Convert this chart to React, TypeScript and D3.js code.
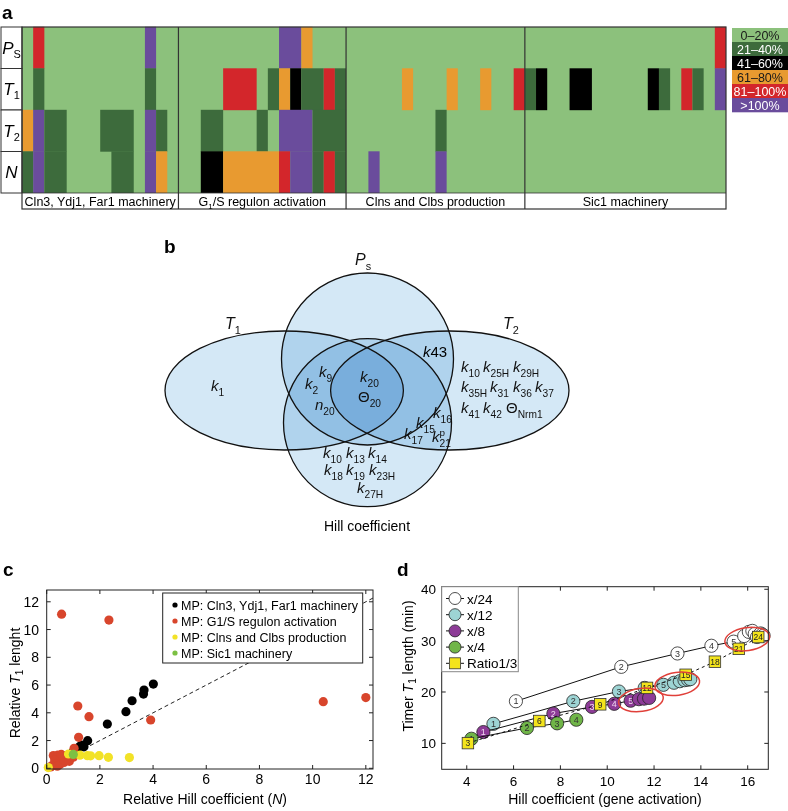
import React from 'react';
import * as d3 from 'd3';

const FONT = "'Liberation Sans', Arial, Helvetica, sans-serif";

// ---------------- Panel a data ----------------
const HEAT_ROW_KEYS = ['PS', 'T1', 'T2', 'N'];
// codes: 0 = 0-20%, 1 = 21-40%, 2 = 41-60%, 3 = 61-80%, 4 = 81-100%, 5 = >100%
const HEAT_PS = '04000000000500' + '000000000553000' + '0000000000000000' + '000000000000000004';
const HEAT_T1 = '01000000000100' + '000044401321141' + '0000030003003004' + '120022000002104105';
const HEAT_T2 = '35110001110510' + '001100010555111' + '0000000010000000' + '000000000000000000';
const HEAT_N = '15110000110530' + '002233333455141' + '0050000050000000' + '000000000000000000';
const HEAT_SECTION_SIZES = [14, 15, 16, 18];
const HEAT_LEVELS = ['0–20%', '21–40%', '41–60%', '61–80%', '81–100%', '>100%'];
const HEAT_COLORS = ['#8cc17c', '#3d6b3c', '#000000', '#e89a30', '#d3262b', '#6a4c9c'];
const HEAT_TEXT = ['#1a1a1a', '#ffffff', '#ffffff', '#1a1a1a', '#ffffff', '#ffffff'];

// ---------------- Panel c data ----------------
const C_SERIES = ['MP: Cln3, Ydj1, Far1 machinery', 'MP: G1/S regulon activation', 'MP: Clns and Clbs production', 'MP: Sic1 machinery'];
const C_COLORS = ['#000000', '#d8452c', '#f2e227', '#7cc043'];
const C_BLACK = [[4.01, 6.07], [3.66, 5.64], [3.64, 5.35], [3.21, 4.87], [2.98, 4.08], [2.28, 3.19], [1.54, 1.99], [1.32, 1.68], [1.23, 1.56], [1.12, 1.35], [0.98, 1.15], [0.88, 0.98], [0.78, 0.82], [0.68, 0.7], [1.4, 1.55]];
const C_RED = [[0.56, 11.11], [2.34, 10.68], [1.17, 4.49], [1.59, 3.72], [3.91, 3.48], [1.2, 2.23], [10.4, 4.8], [12.0, 5.1], [1.03, 1.44],
  [0.25, 0.92], [0.42, 0.95], [0.3, 0.6], [0.45, 0.48], [0.55, 0.72], [0.62, 0.9], [0.72, 0.6], [0.82, 0.75], [0.9, 0.98], [0.35, 0.3],
  [0.2, 0.2], [0.5, 0.28], [0.65, 0.42], [0.85, 0.5], [1.0, 0.8], [0.15, 0.1], [0.4, 0.15], [0.55, 1.0]];
const C_YELLOW = [[0.06, 0.05], [0.82, 1.03], [1.25, 0.95], [1.53, 0.91], [1.65, 0.9], [1.97, 0.91], [2.32, 0.79], [3.11, 0.77]];
const C_GREEN = [[1.0, 1.0]];
const C_X_TICKS = [0, 2, 4, 6, 8, 10, 12];
const C_Y_TICKS = [0, 2, 4, 6, 8, 10, 12];

// ---------------- Panel d data ----------------
const D_NAMES = ['x/24', 'x/12', 'x/8', 'x/4', 'Ratio1/3'];
const D_FILLS = ['#ffffff', '#9dd4d4', '#8d3b97', '#70b548', '#f3e41c'];
const D_ORIGIN = [4.2, 10.9];
const D_X24 = [[6.1, 18.2], [10.6, 24.9], [13.0, 27.5], [14.45, 29.0], [15.4, 29.8], [15.85, 30.9], [16.05, 31.7], [16.2, 31.9], [16.3, 31.3], [16.4, 30.7], [16.5, 31.0], [16.55, 31.4], [16.62, 31.2], [16.68, 31.0]];
const D_X12 = [[5.14, 13.8], [8.55, 18.2], [10.5, 20.1], [11.6, 20.8], [12.4, 21.4], [12.85, 21.8], [13.1, 22.1], [13.3, 22.3], [13.45, 22.4], [13.55, 22.5]];
const D_X8 = [[4.71, 12.2], [7.7, 15.8], [9.35, 17.1], [10.3, 17.7], [11.0, 18.3], [11.35, 18.6], [11.57, 18.7], [11.79, 18.85]];
const D_X4 = [[4.2, 10.9], [6.57, 13.0], [7.86, 13.9], [8.68, 14.6]];
const D_RATIO = [[4.05, 10.05], [7.1, 14.35], [9.7, 17.6], [11.7, 20.8], [13.35, 23.35], [14.6, 25.9], [15.62, 28.4], [16.45, 30.7]];
const D_RATIO_LABELS = ['3', '6', '9', '12', '15', '18', '21', '24'];
const D_ELLIPSES = [[11.44, 18.45], [12.99, 21.6], [15.98, 30.3]];
const D_X_TICKS = [4, 6, 8, 10, 12, 14, 16];
const D_Y_TICKS = [10, 20, 30, 40];

function Tok({ x, y, base, sub, sup, size = 15, italic = true, anchor = 'start' }: any) {
  return (
    <text x={x} y={y} fontSize={size} fontFamily={FONT} textAnchor={anchor} fill="#111">
      <tspan fontStyle={italic ? 'italic' : 'normal'}>{base}</tspan>
      {sup ? <tspan fontSize={size * 0.66} dy={-size * 0.42}>{sup}</tspan> : null}
      {sub ? (
        <tspan fontSize={size * 0.68} dx={sup ? -size * 0.36 : 0} dy={sup ? size * 0.74 : size * 0.3}>{sub}</tspan>
      ) : null}
    </text>
  );
}

// consecutive runs of equal codes in a row string
function runs(row: string) {
  const out: { start: number; len: number; code: number }[] = [];
  row.split('').forEach((ch, i) => {
    const last = out[out.length - 1];
    if (last && last.code === +ch) last.len += 1;
    else out.push({ start: i, len: 1, code: +ch });
  });
  return out;
}

function PanelA() {
  const rows = [HEAT_PS, HEAT_T1, HEAT_T2, HEAT_N];
  const nCols = HEAT_PS.length;
  const left = 22, right = 726, top = 27, bottom = 193, labBottom = 209;
  const x = d3.scaleBand<number>().domain(d3.range(nCols)).range([left, right]);
  const y = d3.scaleBand<string>().domain(HEAT_ROW_KEYS).range([top, bottom]);
  const ends = Array.from(d3.cumsum(HEAT_SECTION_SIZES));
  const starts = [0, ...ends.slice(0, -1)];
  const colX = (i: number) => (i >= nCols ? right : (x(i) as number));
  const rowLabels: any[] = [
    { base: 'P', sub: 'S' },
    { base: 'T', sub: '1' },
    { base: 'T', sub: '2' },
    { base: 'N', sub: '' },
  ];
  const sectionNames: any[] = [
    <>Cln3, Ydj1, Far1 machinery</>,
    <>G<tspan fontSize={8} dy={3}>1</tspan><tspan dy={-3}>/S regulon activation</tspan></>,
    <>Clns and Clbs production</>,
    <>Sic1 machinery</>,
  ];
  return (
    <g>
      <text x={2} y={19} fontSize={19} fontWeight="bold">a</text>
      <rect x={left} y={top} width={right - left} height={bottom - top} fill={HEAT_COLORS[0]} />
      {rows.map((row, r) =>
        runs(row).filter((run) => run.code !== 0).map((run) => (
          <rect key={`${r}-${run.start}`} x={x(run.start)} y={(y(HEAT_ROW_KEYS[r]) as number) - 0.2}
            width={colX(run.start + run.len) - (x(run.start) as number)}
            height={y.bandwidth() + 0.4} fill={HEAT_COLORS[run.code]} />
        ))
      )}
      {HEAT_ROW_KEYS.map((k, r) => (
        <g key={k}>
          <rect x={1} y={y(k)} width={left - 1} height={y.bandwidth()} fill="#fff" stroke="#333" strokeWidth={1} />
          <text x={11.5} y={(y(k) as number) + y.bandwidth() / 2 + 6} textAnchor="middle" fontSize={17}>
            <tspan fontStyle="italic">{rowLabels[r].base}</tspan>
            {rowLabels[r].sub ? <tspan fontSize={11} dy={4}>{rowLabels[r].sub}</tspan> : null}
          </text>
        </g>
      ))}
      <rect x={left} y={bottom} width={right - left} height={labBottom - bottom} fill="#fff" />
      <rect x={left} y={top} width={right - left} height={labBottom - top} fill="none" stroke="#333" strokeWidth={1.2} />
      {starts.slice(1).map((s) => (
        <line key={s} x1={colX(s)} x2={colX(s)} y1={top} y2={labBottom} stroke="#333" strokeWidth={1.2} />
      ))}
      <line x1={left} x2={right} y1={bottom} y2={bottom} stroke="#333" strokeWidth={0.8} />
      {starts.map((s, i) => (
        <text key={i} x={(colX(s) + colX(ends[i])) / 2} y={205.5} textAnchor="middle" fontSize={12.5}>
          {sectionNames[i]}
        </text>
      ))}
      {HEAT_LEVELS.map((lab, i) => (
        <g key={lab}>
          <rect x={732} y={28 + i * 14} width={56} height={14.3} fill={HEAT_COLORS[i]} />
          <text x={760} y={28 + i * 14 + 11.5} textAnchor="middle" fontSize={12.5} fill={HEAT_TEXT[i]}>{lab}</text>
        </g>
      ))}
    </g>
  );
}

function PanelB() {
  const ellW = 119.2, ellH = 59.5;
  const shapes = [
    { type: 'e', cx: 284.2, cy: 390.5 },
    { type: 'e', cx: 449.8, cy: 390.5 },
    { type: 'c', cx: 367.5, cy: 359, r: 86 },
    { type: 'c', cx: 367.5, cy: 422.7, r: 84 },
  ];
  const toks: any[] = [
    { x: 211, y: 391, base: 'k', sub: '1' },
    { x: 319, y: 377, base: 'k', sub: '9' },
    { x: 305, y: 389, base: 'k', sub: '2' },
    { x: 315, y: 410, base: 'n', sub: '20' },
    { x: 360, y: 382, base: 'k', sub: '20' },
    { x: 358, y: 402, base: 'Θ', sub: '20', italic: false },
    { x: 423, y: 357, base: 'k', sub: '', extra: '43' },
    { x: 461, y: 372, base: 'k', sub: '10' },
    { x: 483, y: 372, base: 'k', sub: '25H' },
    { x: 513, y: 372, base: 'k', sub: '29H' },
    { x: 461, y: 392, base: 'k', sub: '35H' },
    { x: 490, y: 392, base: 'k', sub: '31' },
    { x: 513, y: 392, base: 'k', sub: '36' },
    { x: 535, y: 392, base: 'k', sub: '37' },
    { x: 461, y: 413, base: 'k', sub: '41' },
    { x: 483, y: 413, base: 'k', sub: '42' },
    { x: 506, y: 413, base: 'Θ', sub: 'Nrm1', italic: false },
    { x: 433, y: 418, base: 'k', sub: '16' },
    { x: 416, y: 428, base: 'k', sub: '15' },
    { x: 404, y: 439, base: 'k', sub: '17' },
    { x: 432, y: 442, base: 'k', sub: '21', sup: 'p' },
    { x: 323, y: 458, base: 'k', sub: '10' },
    { x: 346, y: 458, base: 'k', sub: '13' },
    { x: 368, y: 458, base: 'k', sub: '14' },
    { x: 324, y: 475, base: 'k', sub: '18' },
    { x: 346, y: 475, base: 'k', sub: '19' },
    { x: 369, y: 475, base: 'k', sub: '23H' },
    { x: 357, y: 493, base: 'k', sub: '27H' },
  ];
  return (
    <g>
      <text x={164} y={253} fontSize={19} fontWeight="bold">b</text>
      <g style={{ isolation: 'isolate' }}>
        {shapes.map((s, i) =>
          s.type === 'e' ? (
            <ellipse key={i} cx={s.cx} cy={s.cy} rx={ellW} ry={ellH} fill="#d4e8f6" style={{ mixBlendMode: 'multiply' }} />
          ) : (
            <circle key={i} cx={s.cx} cy={s.cy} r={s.r} fill="#d4e8f6" style={{ mixBlendMode: 'multiply' }} />
          )
        )}
      </g>
      {shapes.map((s, i) =>
        s.type === 'e' ? (
          <ellipse key={i} cx={s.cx} cy={s.cy} rx={ellW} ry={ellH} fill="none" stroke="#111" strokeWidth={1.3} />
        ) : (
          <circle key={i} cx={s.cx} cy={s.cy} r={s.r} fill="none" stroke="#111" strokeWidth={1.3} />
        )
      )}
      {toks.map((t, i) =>
        t.extra ? (
          <text key={i} x={t.x} y={t.y} fontSize={15}><tspan fontStyle="italic">k</tspan>43</text>
        ) : (
          <Tok key={i} {...t} />
        )
      )}
      <Tok x={355} y={265} base="P" sub="s" size={16} />
      <Tok x={225} y={329} base="T" sub="1" size={16} />
      <Tok x={503} y={329} base="T" sub="2" size={16} />
      <text x={367} y={531} textAnchor="middle" fontSize={14}>Hill coefficient</text>
    </g>
  );
}

function Frame({ x, y, xTicks, yTicks, xFmt, yFmt, tickLen = 4, xLabY, yLabX, fs = 14 }: any) {
  const [x0, x1] = x.range();
  const [y0, y1] = y.range();
  return (
    <g>
      <rect x={x0} y={y1} width={x1 - x0} height={y0 - y1} fill="none" stroke="#222" strokeWidth={1} />
      {xTicks.map((t: number) => (
        <g key={'x' + t}>
          <line x1={x(t)} x2={x(t)} y1={y0} y2={y0 - tickLen} stroke="#222" />
          <line x1={x(t)} x2={x(t)} y1={y1} y2={y1 + tickLen} stroke="#222" />
          <text x={x(t)} y={xLabY} textAnchor="middle" fontSize={fs}>{xFmt(t)}</text>
        </g>
      ))}
      {yTicks.map((t: number) => (
        <g key={'y' + t}>
          <line x1={x0} x2={x0 + tickLen} y1={y(t)} y2={y(t)} stroke="#222" />
          <line x1={x1} x2={x1 - tickLen} y1={y(t)} y2={y(t)} stroke="#222" />
          <text x={yLabX} y={y(t) + 5} textAnchor="end" fontSize={fs}>{yFmt(t)}</text>
        </g>
      ))}
    </g>
  );
}

function PanelC() {
  const x = d3.scaleLinear().domain([0, 12.27]).range([46.7, 373]);
  const y = d3.scaleLinear().domain([-0.05, 12.85]).range([769, 590]);
  const sets = [C_BLACK, C_RED, C_YELLOW, C_GREEN];
  const diag = d3.line<number>().x((d) => x(d)).y((d) => y(d));
  return (
    <g>
      <text x={3} y={576} fontSize={19} fontWeight="bold">c</text>
      <path d={diag([0, 12.27]) as string} stroke="#222" strokeDasharray="4,3" fill="none" strokeWidth={1} />
      {sets.map((pts, si) =>
        pts.map((p, i) => <circle key={si + '-' + i} cx={x(p[0])} cy={y(p[1])} r={4.6} fill={C_COLORS[si]} />)
      )}
      <Frame x={x} y={y} xTicks={C_X_TICKS} yTicks={C_Y_TICKS} xFmt={d3.format('d')} yFmt={d3.format('d')} xLabY={784} yLabX={39} />
      <g>
        <rect x={162.7} y={593} width={200} height={70} fill="#fff" stroke="#222" strokeWidth={1} />
        {C_SERIES.map((s, i) => (
          <g key={s}>
            <circle cx={175} cy={605 + i * 16} r={2.6} fill={C_COLORS[i]} />
            <text x={181} y={605 + i * 16 + 4.5} fontSize={12.5}>{s}</text>
          </g>
        ))}
      </g>
      <text x={205} y={804} textAnchor="middle" fontSize={14}>Relative Hill coefficient (<tspan fontStyle="italic">N</tspan>)</text>
      <text transform="translate(20,683) rotate(-90)" textAnchor="middle" fontSize={14}>
        Relative <tspan fontStyle="italic">T</tspan><tspan fontSize={10} dy={3}>1</tspan><tspan dy={-3}> lenght</tspan>
      </text>
    </g>
  );
}

function PanelD() {
  const x = d3.scaleLinear().domain([2.93, 16.88]).range([441.7, 768.3]);
  const y = d3.scaleLinear().domain([4.95, 40.5]).range([769.3, 586.7]);
  const line = d3.line<number[]>().x((d) => x(d[0])).y((d) => y(d[1]));
  const circ = [
    { pts: D_X24, lead: null, fill: D_FILLS[0] },
    { pts: D_X12, lead: D_ORIGIN, fill: D_FILLS[1] },
    { pts: D_X8, lead: D_ORIGIN, fill: D_FILLS[2] },
    { pts: D_X4, lead: null, fill: D_FILLS[3] },
  ];
  const R = 6.6;
  const S = 11.5;
  return (
    <g>
      <text x={397} y={576} fontSize={19} fontWeight="bold">d</text>
      {circ.map((s, si) => {
        const all = s.lead ? [s.lead, ...s.pts] : s.pts;
        return (
          <g key={si}>
            <path d={line(all) as string} fill="none" stroke="#111" strokeWidth={1} />
            {s.pts.map((p, i) => (
              <g key={i}>
                <circle cx={x(p[0])} cy={y(p[1])} r={R} fill={s.fill} stroke="#222" strokeWidth={0.8} />
                {i < 5 ? (
                  <text x={x(p[0])} y={y(p[1]) + 3.2} textAnchor="middle" fontSize={9}
                    fill={si === 2 ? '#f0d8f0' : '#333'}>{i + 1}</text>
                ) : null}
              </g>
            ))}
          </g>
        );
      })}
      <path d={line(D_RATIO) as string} fill="none" stroke="#111" strokeWidth={1} strokeDasharray="3,3" />
      {D_RATIO.map((p, i) => (
        <g key={i}>
          <rect x={x(p[0]) - S / 2} y={y(p[1]) - S / 2} width={S} height={S} fill={D_FILLS[4]} stroke="#333" strokeWidth={0.8} />
          <text x={x(p[0])} y={y(p[1]) + 3.2} textAnchor="middle" fontSize={8.5} fill="#222">{D_RATIO_LABELS[i]}</text>
        </g>
      ))}
      {D_ELLIPSES.map((e, i) => (
        <ellipse key={i} cx={x(e[0])} cy={y(e[1])} rx={22.5} ry={11.5} fill="none" stroke="#e0403a" strokeWidth={1.5}
          transform={`rotate(-8 ${x(e[0])} ${y(e[1])})`} />
      ))}
      <Frame x={x} y={y} xTicks={D_X_TICKS} yTicks={D_Y_TICKS} xFmt={d3.format('d')} yFmt={d3.format('d')} xLabY={786} yLabX={436} fs={13.5} />
      <g>
        <rect x={441.7} y={586.7} width={76.6} height={85} fill="#fff" stroke="#888" strokeWidth={1} />
        {D_NAMES.map((n, i) => {
          const cy = 598.5 + i * 16.2;
          return (
            <g key={n}>
              <line x1={446} x2={464} y1={cy} y2={cy} stroke="#111" strokeWidth={1} strokeDasharray={i === 4 ? '3,2' : undefined} />
              {i < 4 ? (
                <circle cx={455} cy={cy} r={6} fill={D_FILLS[i]} stroke="#222" strokeWidth={0.8} />
              ) : (
                <rect x={449.5} y={cy - 5.5} width={11} height={11} fill={D_FILLS[4]} stroke="#333" strokeWidth={0.8} />
              )}
              <text x={467} y={cy + 5} fontSize={13.5}>{n}</text>
            </g>
          );
        })}
      </g>
      <text x={605} y={804} textAnchor="middle" fontSize={14}>Hill coefficient (gene activation)</text>
      <text transform="translate(413,666) rotate(-90)" textAnchor="middle" fontSize={14}>
        Timer <tspan fontStyle="italic">T</tspan><tspan fontSize={10} dy={3}>1</tspan><tspan dy={-3}> length (min)</tspan>
      </text>
    </g>
  );
}

export default function App() {
  return (
    <svg width={788} height={811} viewBox="0 0 788 811" fontFamily={FONT}
      style={{ position: 'absolute', left: 0, top: 0, background: '#fff' }}>
      <rect x={0} y={0} width={788} height={811} fill="#fff" />
      <PanelA />
      <PanelB />
      <PanelC />
      <PanelD />
    </svg>
  );
}
